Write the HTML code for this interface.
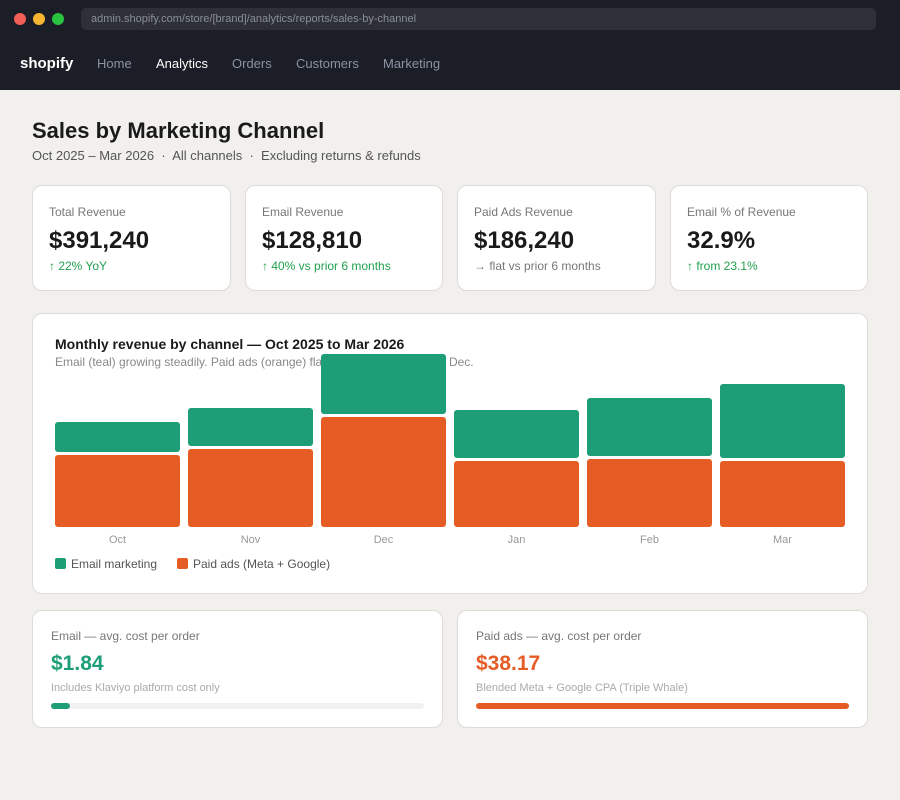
<!DOCTYPE html>
<html><head><meta charset="utf-8"><style>
*{box-sizing:border-box;margin:0;padding:0}
body{width:900px;height:800px;background:#f1f0ed;font-family:"Liberation Sans",sans-serif;position:relative;overflow:hidden}
.abs{position:absolute}
.hdr{left:0;top:0;width:900px;height:90px;background:#1b1e26}
.dot{width:12px;height:12px;border-radius:50%;top:13px}
.url{left:81px;top:8px;width:795px;height:22px;background:#2d3038;border-radius:5px;color:#8a8e96;font-size:11px;line-height:22px;padding-left:10px}
.nav{top:56px;font-size:13px;color:#8b93a3}
.card{background:#fff;border:1px solid #dedcd8;border-radius:10px}
.lbl{font-size:12px;color:#777}
.big{font-size:24px;font-weight:bold;color:#1a1a1a}
.up{font-size:12px;color:#22a04f}
</style></head><body>
<div class="abs hdr">
<div class="abs dot" style="left:14px;background:#f25f57"></div>
<div class="abs dot" style="left:33px;background:#f7b631"></div>
<div class="abs dot" style="left:52px;background:#2ac33f"></div>
<div class="abs url">admin.shopify.com/store/[brand]/analytics/reports/sales-by-channel</div>
<div class="abs" style="left:20px;top:55px;font-size:15px;font-weight:bold;color:#fff">shopify</div>
<div class="abs nav" style="left:97px">Home</div>
<div class="abs nav" style="left:156px;color:#fff">Analytics</div>
<div class="abs nav" style="left:232px">Orders</div>
<div class="abs nav" style="left:296px">Customers</div>
<div class="abs nav" style="left:383px">Marketing</div>
</div>
<div class="abs" style="left:32px;top:118px;font-size:22px;font-weight:bold;color:#1a1a1a">Sales by Marketing Channel</div>
<div class="abs" style="left:32px;top:148px;font-size:13px;color:#555">Oct 2025 – Mar 2026 &nbsp;·&nbsp; All channels &nbsp;·&nbsp; Excluding returns &amp; refunds</div>

<div class="abs card" style="left:32px;top:185px;width:199px;height:106px">
<div class="abs lbl" style="left:16px;top:19px">Total Revenue</div><div class="abs big" style="left:16px;top:41px">$391,240</div><div class="abs up" style="left:16px;top:73px">↑ 22% YoY</div></div>
<div class="abs card" style="left:245px;top:185px;width:198px;height:106px">
<div class="abs lbl" style="left:16px;top:19px">Email Revenue</div><div class="abs big" style="left:16px;top:41px">$128,810</div><div class="abs up" style="left:16px;top:73px">↑ 40% vs prior 6 months</div></div>
<div class="abs card" style="left:457px;top:185px;width:199px;height:106px">
<div class="abs lbl" style="left:16px;top:19px">Paid Ads Revenue</div><div class="abs big" style="left:16px;top:41px">$186,240</div><div class="abs up" style="left:16px;top:73px;color:#777">→ flat vs prior 6 months</div></div>
<div class="abs card" style="left:670px;top:185px;width:198px;height:106px">
<div class="abs lbl" style="left:16px;top:19px">Email % of Revenue</div><div class="abs big" style="left:16px;top:41px">32.9%</div><div class="abs up" style="left:16px;top:73px">↑ from 23.1%</div></div>

<div class="abs card" style="left:32px;top:313px;width:836px;height:281px">
<div class="abs" style="left:22px;top:22px;font-size:14px;font-weight:bold;color:#1a1a1a">Monthly revenue by channel — Oct 2025 to Mar 2026</div>
<div class="abs" style="left:22px;top:41px;font-size:12px;color:#888;white-space:nowrap">Email (teal) growing steadily. Paid ads (orange) flat with seasonal spike in Dec.</div>
<svg id="chart" class="abs" style="left:-1px;top:-1px" width="836" height="281"></svg>
<div class="abs" style="left:22px;top:244px;width:11px;height:11px;background:#1e9e76;border-radius:2px"></div>
<div class="abs" style="left:38px;top:243px;font-size:12px;color:#555">Email marketing</div>
<div class="abs" style="left:144px;top:244px;width:11px;height:11px;background:#e55d25;border-radius:2px"></div>
<div class="abs" style="left:160px;top:243px;font-size:12px;color:#555">Paid ads (Meta + Google)</div>
</div>

<div class="abs card" style="left:32px;top:610px;width:411px;height:118px">
<div class="abs" style="left:18px;top:18px;font-size:12px;color:#777">Email — avg. cost per order</div>
<div class="abs" style="left:18px;top:41px;font-size:21px;font-weight:bold;color:#1e9e76">$1.84</div>
<div class="abs" style="left:18px;top:71px;font-size:11px;color:#aaa">Includes Klaviyo platform cost only</div>
<div class="abs" style="left:18px;top:92px;width:373px;height:6px;background:#f1f1f1;border-radius:3px"><div style="width:19px;height:6px;background:#1e9e76;border-radius:3px"></div></div>
</div>
<div class="abs card" style="left:457px;top:610px;width:411px;height:118px">
<div class="abs" style="left:18px;top:18px;font-size:12px;color:#777">Paid ads — avg. cost per order</div>
<div class="abs" style="left:18px;top:41px;font-size:21px;font-weight:bold;color:#e55d25">$38.17</div>
<div class="abs" style="left:18px;top:71px;font-size:11px;color:#aaa">Blended Meta + Google CPA (Triple Whale)</div>
<div class="abs" style="left:18px;top:92px;width:373px;height:6px;background:#e55d25;border-radius:3px"></div>
</div>

<script>
const months = ["Oct","Nov","Dec","Jan","Feb","Mar"];
const paidAds = [28800,31200,44000,26400,27200,26400];
const email = [12000,15200,24000,19200,23200,29600];
const svg = document.getElementById('chart');
const NS = 'http://www.w3.org/2000/svg';
const base = 214, perPx = 400, gap = 3;
const y = v => v / perPx;
const xLeft = i => 23 + i * 133, bw = 125;
function rect(x, yy, w, h, fill, name) {
  const r = document.createElementNS(NS, 'rect');
  r.setAttribute('x', x); r.setAttribute('y', yy); r.setAttribute('width', w); r.setAttribute('height', h);
  r.setAttribute('rx', 3); r.setAttribute('fill', fill);
  
  
  svg.appendChild(r);
}
months.forEach((m, i) => {
  const hp = y(paidAds[i]), he = y(email[i]);
  rect(xLeft(i), base - hp, bw, hp, '#e55d25', 'bar-paid-' + m.toLowerCase());
  rect(xLeft(i), base - hp - gap - he, bw, he, '#1e9e76', 'bar-email-' + m.toLowerCase());
  const t = document.createElementNS(NS, 'text');
  t.setAttribute('x', xLeft(i) + bw / 2); t.setAttribute('y', base + 16);
  t.setAttribute('text-anchor', 'middle'); t.setAttribute('font-size', '11');
  t.setAttribute('fill', '#999'); t.setAttribute('font-family', 'Liberation Sans, sans-serif');
  t.textContent = m;
  
  
  svg.appendChild(t);
});
</script>
</body></html>
